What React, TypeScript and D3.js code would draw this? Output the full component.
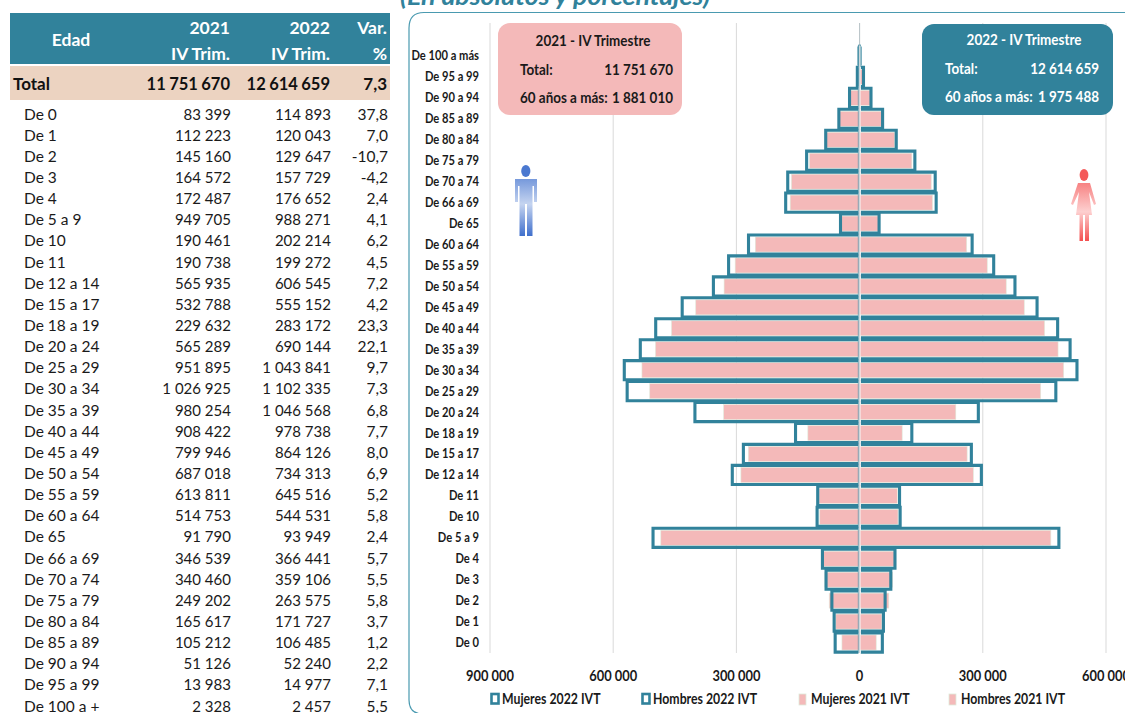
import React from "react";
import * as d3 from "d3";

const tableAges = ["De 0","De 1","De 2","De 3","De 4","De 5 a 9","De 10","De 11","De 12 a 14","De 15 a 17","De 18 a 19","De 20 a 24","De 25 a 29","De 30 a 34","De 35 a 39","De 40 a 44","De 45 a 49","De 50 a 54","De 55 a 59","De 60 a 64","De 65","De 66 a 69","De 70 a 74","De 75 a 79","De 80 a 84","De 85 a 89","De 90 a 94","De 95 a 99","De 100 a +"];
const table2021 = ["83 399","112 223","145 160","164 572","172 487","949 705","190 461","190 738","565 935","532 788","229 632","565 289","951 895","1 026 925","980 254","908 422","799 946","687 018","613 811","514 753","91 790","346 539","340 460","249 202","165 617","105 212","51 126","13 983","2 328"];
const table2022 = ["114 893","120 043","129 647","157 729","176 652","988 271","202 214","199 272","606 545","555 152","283 172","690 144","1 043 841","1 102 335","1 046 568","978 738","864 126","734 313","645 516","544 531","93 949","366 441","359 106","263 575","171 727","106 485","52 240","14 977","2 457"];
const tableVar = ["37,8","7,0","-10,7","-4,2","2,4","4,1","6,2","4,5","7,2","4,2","23,3","22,1","9,7","7,3","6,8","7,7","8,0","6,9","5,2","5,8","2,4","5,7","5,5","5,8","3,7","1,2","2,2","7,1","5,5"];

const pyramidAges = ["De 100 a más","De 95 a 99","De 90 a 94","De 85 a 89","De 80 a 84","De 75 a 79","De 70 a 74","De 66 a 69","De 65","De 60 a 64","De 55 a 59","De 50 a 54","De 45 a 49","De 40 a 44","De 35 a 39","De 30 a 34","De 25 a 29","De 20 a 24","De 18 a 19","De 15 a 17","De 12 a 14","De 11","De 10","De 5 a 9","De 4","De 3","De 2","De 1","De 0"];
const left2022 = [1300,5500,24500,50500,82500,129000,175000,180000,46500,270500,319000,356000,432000,496500,534000,573000,566000,401000,156000,283000,310000,102000,103500,503000,90500,81700,67500,62000,59500];
const right2022 = [1157,9477,27740,55985,89227,134575,184106,186441,47449,274031,326516,378313,432126,482238,512568,529335,477841,289144,127172,272152,296545,97272,98714,485271,86152,76029,62147,58043,55393];
const left2021 = [1200,5000,24000,50000,80000,122000,166000,169000,45500,254000,303000,330000,399000,458000,497000,530000,511000,331000,126000,271000,289000,99000,97000,484000,88000,84500,74000,58000,43000];
const right2021 = [1128,8983,27126,55212,85617,127202,174460,177539,46290,260753,310811,357018,400946,450422,483254,496925,440895,234289,103632,261788,276935,91738,93461,465705,84487,80072,71160,54223,40399];
const axisTicks = [-900000,-600000,-300000,0,300000,600000];
const legendItems = ["Mujeres 2022 IVT","Hombres 2022 IVT","Mujeres 2021 IVT","Hombres 2021 IVT"];
const legendX = [490,641,797,947];

const TEAL = "#31829b";
const PINK = "#f4b9b9";
const FONT = "Lato, 'Open Sans', sans-serif";

const x = d3.scaleLinear().domain([-900000, 600000]).range([490, 1106]);
const y = d3.scaleBand<string>().domain(pyramidAges).range([45.5, 653]).paddingInner(0);
const fmt = (v: number) => d3.format(",")(Math.abs(v)).replace(/,/g, " ");
const tableY = d3.scalePoint<string>().domain(tableAges).range([114, 706]);

function N(props: { x: number; y: number; s?: number; size: number; anchor?: "start" | "middle" | "end"; children: React.ReactNode }) {
  const { x: tx, y: ty, s = 0.84, size, anchor = "start", children } = props;
  return (
    <text transform={`translate(${tx},${ty}) scale(${s},1)`} fontSize={size} textAnchor={anchor}>
      {children}
    </text>
  );
}

function Table() {
  return (
    <g fontFamily={FONT} fill="#1a1a1a">
      <rect x={10} y={13} width={380} height={51} fill={TEAL} />
      <rect x={10} y={66} width={380} height={34} fill="#ecd3c1" />
      <g fill="#fff" fontWeight={700} fontSize={17.5}>
        <text x={71} y={46} textAnchor="middle">Edad</text>
        <text x={230} y={33.5} textAnchor="end">2021</text>
        <text x={230} y={59.5} textAnchor="end">IV Trim.</text>
        <text x={330} y={33.5} textAnchor="end">2022</text>
        <text x={330} y={59.5} textAnchor="end">IV Trim.</text>
        <text x={387} y={33.5} textAnchor="end">Var.</text>
        <text x={387} y={59.5} textAnchor="end">%</text>
      </g>
      <g fontWeight={700} fontSize={16.5} fill="#111" wordSpacing={-0.6}>
        <text x={13} y={90} fontSize={17}>Total</text>
        <text x={230} y={90} textAnchor="end">11 751 670</text>
        <text x={330} y={90} textAnchor="end">12 614 659</text>
        <text x={387} y={90} textAnchor="end" fontSize={17}>7,3</text>
      </g>
      <g fontSize={15.5}>
        {tableAges.map((a, i) => {
          const ty = (tableY(a) as number) + 5.5;
          return (
            <g key={a}>
              <text x={24} y={ty}>{a}</text>
              <N x={231} y={ty} size={15.5} s={0.97} anchor="end">{table2021[i]}</N>
              <N x={331} y={ty} size={15.5} s={0.97} anchor="end">{table2022[i]}</N>
              <text x={388} y={ty} textAnchor="end">{tableVar[i]}</text>
            </g>
          );
        })}
      </g>
    </g>
  );
}

function Pyramid() {
  const x0 = x(0);
  const bh = y.bandwidth();
  const pinkH = 15;
  const gap = 1.2;
  return (
    <g>
      {axisTicks.map((t) => (
        <line key={t} x1={x(t)} x2={x(t)} y1={23} y2={653} stroke="#d9d9d9" strokeWidth={1} />
      ))}
      {pyramidAges.map((a, i) => {
        const cy = (y(a) as number) + bh / 2;
        return (
          <g key={a} fill={PINK} stroke="#dfeadb" strokeWidth={0.6}>
            <rect x={x(-left2021[i])} y={cy - pinkH / 2} width={x0 - x(-left2021[i])} height={pinkH} />
            <rect x={x0} y={cy - pinkH / 2} width={x(right2021[i]) - x0} height={pinkH} />
          </g>
        );
      })}
      {pyramidAges.map((a, i) => {
        const top = (y(a) as number) + 0.9;
        const bottom = top + bh - 1.8;
        const xl = x(-left2022[i]);
        const xr = x(right2022[i]);
        return (
          <g key={a} fill="none" stroke={TEAL} strokeWidth={3.1}>
            <path d={`M${x0 - gap} ${top}H${xl}V${bottom}H${x0 - gap}`} />
            <path d={`M${x0 + gap} ${top}H${xr}V${bottom}H${x0 + gap}`} />
          </g>
        );
      })}
      <line x1={x0} x2={x0} y1={45.5} y2={653} stroke="#fff" strokeWidth={1.8} />
      <line x1={x0 - 1.3} x2={x0 - 1.3} y1={45.5} y2={653} stroke={TEAL} strokeWidth={0.6} />
      <line x1={x0} x2={x0} y1={23} y2={653} stroke="#9fb4bb" strokeWidth={0.6} />
      <g fontFamily={FONT} fontWeight={700} fill="#1a1a1a">
        {pyramidAges.map((a) => (
          <N key={a} x={479} y={(y(a) as number) + bh / 2 + 4.5} size={13} s={0.86} anchor="end">{a}</N>
        ))}
        {axisTicks.map((t) => (
          <N key={t} x={x(t)} y={680.5} size={15} s={0.86} anchor="middle">{fmt(t)}</N>
        ))}
      </g>
    </g>
  );
}

function Legend() {
  return (
    <g fontFamily={FONT} fontWeight={700} fill="#1a1a1a">
      {legendItems.map((l, i) => (
        <g key={l}>
          {i < 2 ? (
            <rect x={legendX[i] + 1.5} y={694} width={7} height={9.5} fill="#fff" stroke={TEAL} strokeWidth={2.6} />
          ) : (
            <rect x={legendX[i] + 2} y={694} width={7} height={11} fill={PINK} stroke="#dfeadb" strokeWidth={0.8} />
          )}
          <N x={legendX[i] + (i < 2 ? 12 : 14)} y={704} size={15} s={0.82}>{l}</N>
        </g>
      ))}
    </g>
  );
}

function Callout(props: { x: number; w: number; y: number; h: number; fill: string; color: string; title: string; total: string; older: string; cx: number; lx: number; rx: number; oy: number }) {
  const { x: bx, w, y: by, h, fill, color, title, total, older, cx, lx, rx, oy } = props;
  return (
    <g fontFamily={FONT} fontWeight={700} fill={color}>
      <rect x={bx} y={by} width={w} height={h} rx={12} fill={fill} />
      <N x={cx} y={oy} size={16} anchor="middle">{title}</N>
      <N x={lx} y={oy + 29} size={16}>Total:</N>
      <N x={rx} y={oy + 29} size={16} anchor="end">{total}</N>
      <N x={lx} y={oy + 57} size={16}>60 años a más:</N>
      <N x={rx} y={oy + 57} size={16} anchor="end">{older}</N>
    </g>
  );
}

function Icons() {
  return (
    <g>
      <defs>
        <linearGradient id="gMan" gradientUnits="userSpaceOnUse" x1="0" y1="165" x2="0" y2="236">
          <stop offset="0" stopColor="#4a78d0" />
          <stop offset="0.55" stopColor="#c5d4f0" />
          <stop offset="1" stopColor="#3f6fcc" />
        </linearGradient>
        <linearGradient id="gWoman" gradientUnits="userSpaceOnUse" x1="0" y1="168" x2="0" y2="241">
          <stop offset="0" stopColor="#f45a5a" />
          <stop offset="0.6" stopColor="#fdd0d0" />
          <stop offset="1" stopColor="#f44f4f" />
        </linearGradient>
      </defs>
      <ellipse cx={525.8} cy={171} rx={4.6} ry={6} fill="#4a78d0" />
      <path fill="url(#gMan)" d="M515 179H537V202H534V186H532.5V236H527V204H525V236H519.5V186H518V202H515Z" />
      <ellipse cx={1084} cy={175} rx={4.4} ry={6} fill="#f45a5a" />
      <path fill="url(#gWoman)" d="M1078 183H1090L1096 204L1094 205L1089 192L1092 215H1089V241H1085V215H1083V241H1079.5V215H1076L1079 192L1073 205L1071 204Z" />
    </g>
  );
}

export default function App() {
  return (
    <svg width={1125} height={713} viewBox="0 0 1125 713" style={{ position: "fixed", left: 0, top: 0, display: "block", background: "#fff" }}>
      <Table />
      <text x={400} y={5} fontFamily={FONT} fontWeight={700} fontStyle="italic" fontSize={24} fill={TEAL} textLength={310} lengthAdjust="spacingAndGlyphs">(En absolutos y porcentajes)</text>
      <path d="M1125 12.5H424Q409 12.5 409 28V700Q409 714 423 714H1125" fill="none" stroke="#4a9ab0" strokeWidth={1.2} />
      <Pyramid />
      <Callout x={498} w={184} y={23} h={92} fill={PINK} color="#1a1a1a" title="2021 - IV Trimestre" total="11 751 670" older="1 881 010" cx={593} lx={520} rx={673} oy={46} />
      <Callout x={922} w={191} y={24} h={91} fill={TEAL} color="#fff" title="2022 - IV Trimestre" total="12 614 659" older="1 975 488" cx={1024} lx={945} rx={1099} oy={45} />
      <Icons />
      <Legend />
    </svg>
  );
}
